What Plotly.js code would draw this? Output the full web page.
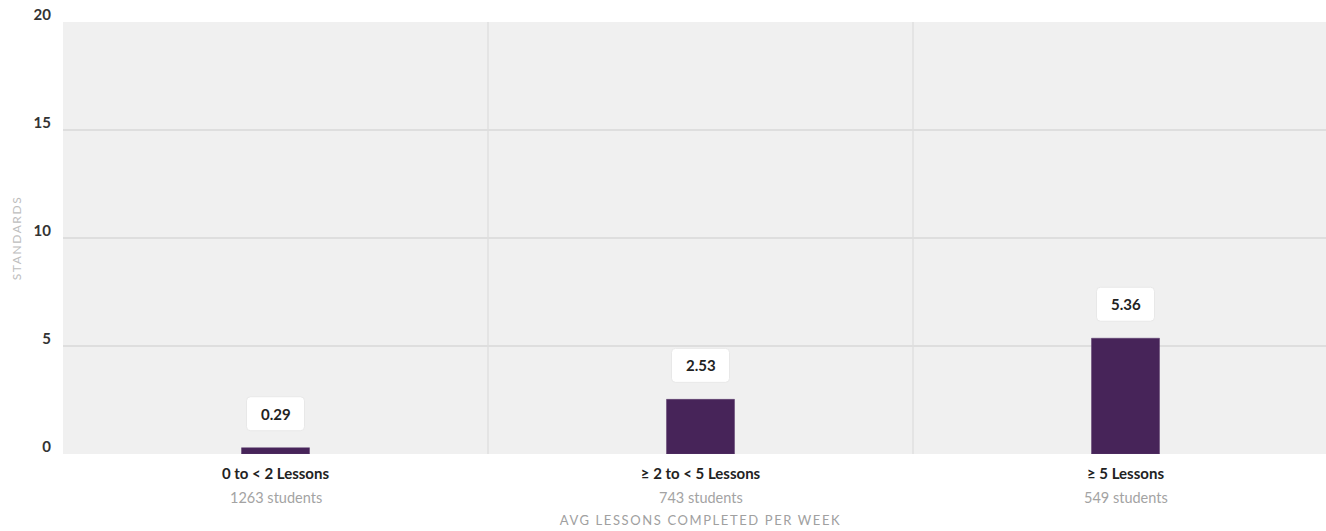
<!DOCTYPE html>
<html>
<head>
<meta charset="utf-8">
<script src="https://cdn.plot.ly/plotly-3.0.1.min.js"></script>
<style>
html,body{margin:0;padding:0;overflow:hidden;background:#fff;}
#chart{width:1345px;height:531px;}
</style>
</head>
<body>
<div id="chart"></div>
<script>
const categories = ["0 to < 2 Lessons", "≥ 2 to < 5 Lessons", "≥ 5 Lessons"];
const studentCounts = ["1263 students", "743 students", "549 students"];
const values = [0.29, 2.53, 5.36];
const yTicks = [0, 5, 10, 15, 20];

const FONT = "Lato, 'Open Sans', sans-serif";

const trace = {
  type: "bar",
  x: categories,
  y: values,
  width: 0.16,
  marker: {color: "#472459", line: {color: "#5a3a6c", width: 0.5}},
  hoverinfo: "skip"
};

const shapes = [];
[0.5, 1.5].forEach(p => shapes.push({
  type: "line", xref: "x", yref: "paper", x0: p, x1: p, y0: 0, y1: 1,
  line: {color: "#e0e0e0", width: 1.5}, layer: "below"
}));
const rr = "M -25 17 L 25 17 Q 29 17 29 21 L 29 47 Q 29 51 25 51 L -25 51 Q -29 51 -29 47 L -29 21 Q -29 17 -25 17 Z";
values.forEach((v, i) => shapes.push({
  type: "path", xref: "x", yref: "y", xsizemode: "pixel", ysizemode: "pixel",
  xanchor: i, yanchor: v, path: rr,
  fillcolor: "#ffffff", line: {color: "#e8e8e8", width: 1}
}));

const annotations = values.map((v, i) => ({
  x: i, y: v, xref: "x", yref: "y", text: "<b>" + v.toFixed(2) + "</b>",
  showarrow: false, yshift: 34,
  font: {family: FONT, size: 15, color: "#222"}
}));
studentCounts.forEach((s, i) => annotations.push({
  x: i, y: 0, xref: "x", yref: "y", text: s,
  showarrow: false, yshift: -43,
  font: {family: FONT, size: 14.5, color: "#a3a3a3"}
}));

const layout = {
  width: 1345, height: 531,
  margin: {l: 63, r: 7, t: 22, b: 77},
  paper_bgcolor: "#ffffff",
  plot_bgcolor: "#f0f0f0",
  showlegend: false,
  font: {family: FONT},
  xaxis: {
    type: "category",
    range: [-0.5, 2.5],
    tickvals: categories,
    ticktext: categories.map(c => "<b>" + c + "</b>"),
    tickfont: {size: 15, color: "#222"},
    showgrid: false, zeroline: false, showline: false,
    ticks: "", fixedrange: true,
    ticklabelstandoff: 9,
    title: {text: "<span style='letter-spacing:1.6px'>AVG LESSONS COMPLETED PER WEEK</span>", standoff: 34,
      font: {size: 13, color: "#a0a0a0", family: FONT}}
  },
  yaxis: {
    range: [0, 20],
    tickvals: yTicks,
    ticktext: yTicks.map(String),
    tickfont: {size: 15, color: "#333", weight: "bold"},
    showgrid: true, gridcolor: "#dedede", gridwidth: 1.5,
    zeroline: false, showline: false, ticks: "",
    ticklabelstandoff: 11,
    ticklabelshift: -7,
    title: {text: "<span style='letter-spacing:1.6px'>STANDARDS</span>", standoff: 9,
      font: {size: 12, color: "#bdbdbd", family: FONT}}
  },
  shapes: shapes,
  annotations: annotations
};

Plotly.newPlot("chart", [trace], layout, {displayModeBar: false, staticPlot: true});
</script>
</body>
</html>
